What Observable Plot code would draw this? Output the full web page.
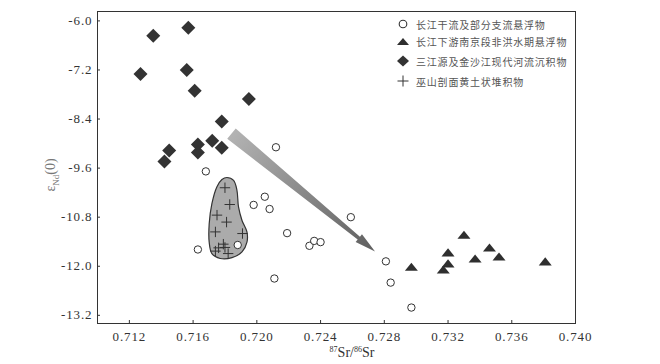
<!DOCTYPE html>
<html><head><meta charset="utf-8">
<script src="https://cdn.jsdelivr.net/npm/d3@7"></script>
<script src="https://cdn.jsdelivr.net/npm/@observablehq/plot@0.6"></script>
<style>
body{margin:0;background:#fff;}
#chart{position:relative;width:660px;height:364px;overflow:hidden;}
#chart svg text{letter-spacing:0.9px;}
.lg{position:absolute;left:396px;height:14px;display:flex;align-items:center;font-family:"Noto Sans CJK SC",sans-serif;font-size:10px;letter-spacing:0.8px;color:#555;white-space:nowrap;}
.lg svg{width:14px;height:14px;margin-right:6px;overflow:visible;}
.ylab{position:absolute;left:52px;top:175px;transform:translate(-50%,-50%) rotate(-90deg);font-family:"Liberation Serif",serif;font-size:14px;color:#777;white-space:nowrap;}
.xlab{position:absolute;left:352px;top:353px;transform:translate(-50%,-50%);font-family:"Liberation Serif",serif;font-size:14px;color:#333;white-space:nowrap;}
.ylab sub{font-size:9px;}
.xlab sup{font-size:8px;}
</style></head><body><div id="chart"></div>
<script>
// ---- data ----
const xTicks = [0.712, 0.716, 0.720, 0.724, 0.728, 0.732, 0.736, 0.740];
const yTicks = [-6.0, -7.2, -8.4, -9.6, -10.8, -12.0, -13.2];

// 长江干流及部分支流悬浮物 (circles)
const circleX = [0.7212, 0.7168, 0.7205, 0.7198, 0.7208, 0.7219, 0.7163, 0.7188, 0.7211, 0.7259, 0.7233, 0.7236, 0.7240, 0.7281, 0.7284, 0.7297];
const circleY = [-9.09, -9.68, -10.30, -10.50, -10.60, -11.19, -11.59, -11.48, -12.30, -10.80, -11.50, -11.38, -11.41, -11.88, -12.40, -13.01];

// 长江下游南京段非洪水期悬浮物 (triangles)
const triX = [0.7297, 0.7320, 0.7320, 0.7317, 0.7330, 0.7337, 0.7346, 0.7352, 0.7381];
const triY = [-12.01, -11.66, -11.93, -12.08, -11.23, -11.81, -11.54, -11.76, -11.88];

// 三江源及金沙江现代河流沉积物 (diamonds)
const diaX = [0.7135, 0.7157, 0.7127, 0.7156, 0.7161, 0.7195, 0.7178, 0.7172, 0.7178, 0.7163, 0.7163, 0.7145, 0.7142];
const diaY = [-6.36, -6.17, -7.30, -7.20, -7.71, -7.91, -8.46, -8.93, -9.10, -9.02, -9.22, -9.17, -9.44];

// 巫山剖面黄土状堆积物 (crosses)
const crossX = [0.7180, 0.7183, 0.7175, 0.7181, 0.7174, 0.7191, 0.7179, 0.7176, 0.7180, 0.7174, 0.7182];
const crossY = [-10.08, -10.49, -10.75, -10.92, -11.16, -11.20, -11.46, -11.55, -11.54, -11.63, -11.69];

// gray envelope around the crosses
const blobX = [0.71812, 0.71854, 0.71875, 0.71885, 0.71907, 0.71938, 0.71938, 0.71907, 0.71844, 0.71770, 0.71718, 0.71701, 0.71701, 0.71718, 0.71749, 0.71781];
const blobY = [-9.83, -9.90, -10.14, -10.55, -10.88, -11.16, -11.41, -11.65, -11.79, -11.81, -11.69, -11.41, -10.96, -10.47, -10.06, -9.88];

// arrow (start, tip)
const arrowX = [0.71844, 0.72745];
const arrowY = [-8.77, -11.65];

const legendLabels = ["长江干流及部分支流悬浮物", "长江下游南京段非洪水期悬浮物", "三江源及金沙江现代河流沉积物", "巫山剖面黄土状堆积物"];

// ---- layout ----
const W = 660, H = 364, mL = 97, mR = 85, mT = 11, mB = 41;
const plotW = W - mL - mR, plotH = H - mT - mB;
const xDomain = [0.710, 0.740], yDomain = [-13.40, -5.77];

const toRows = (xs, ys) => xs.map((x, i) => ({x, y: ys[i]}));
const circles = toRows(circleX, circleY);
const tris = toRows(triX, triY);
const dias = toRows(diaX, diaY);
const crosses = toRows(crossX, crossY);
const blob = toRows(blobX, blobY);

const symDiamond = {draw(c, size) { const r = Math.sqrt(size / Math.PI); c.moveTo(0, -r); c.lineTo(r, 0); c.lineTo(0, r); c.lineTo(-r, 0); c.closePath(); }};
const symTri = {draw(c, size) { const r = Math.sqrt(size / Math.PI); const h = r * 0.62; c.moveTo(0, -h); c.lineTo(r, h); c.lineTo(-r, h); c.closePath(); }};
const symPlus = {draw(c, size) { const r = Math.sqrt(size / Math.PI); c.moveTo(-r, 0); c.lineTo(r, 0); c.moveTo(0, -r); c.lineTo(0, r); }};

function arrowMark(index, scales) {
  const x0 = scales.x(arrowX[0]), y0 = scales.y(arrowY[0]);
  const x1 = scales.x(arrowX[1]), y1 = scales.y(arrowY[1]);
  const dx = x1 - x0, dy = y1 - y0, L = Math.hypot(dx, dy);
  const ux = dx / L, uy = dy / L, nx = -uy, ny = ux;
  const headLen = 21, headHalf = 5, w0 = 6.7, w1 = 1.8;
  const bx = x1 - ux * headLen, by = y1 - uy * headLen;
  const pts = [
    [x0 + nx * w0, y0 + ny * w0],
    [bx + nx * w1, by + ny * w1],
    [bx + nx * headHalf, by + ny * headHalf],
    [x1, y1],
    [bx - nx * headHalf, by - ny * headHalf],
    [bx - nx * w1, by - ny * w1],
    [x0 - nx * w0, y0 - ny * w0]
  ];
  const g = d3.create("svg:g");
  const grad = g.append("defs").append("linearGradient")
    .attr("id", "arrowGrad").attr("gradientUnits", "userSpaceOnUse")
    .attr("x1", x0).attr("y1", y0).attr("x2", x1).attr("y2", y1);
  grad.append("stop").attr("offset", "0%").attr("stop-color", "#b3b3b3");
  grad.append("stop").attr("offset", "100%").attr("stop-color", "#5f5f5f");
  g.append("polygon").attr("points", pts.map(p => p.join(",")).join(" ")).attr("fill", "url(#arrowGrad)");
  return g.node();
}

const chart = Plot.plot({
  width: W, height: H,
  marginLeft: mL, marginRight: mR, marginTop: mT, marginBottom: mB,
  x: {domain: xDomain, ticks: xTicks, tickFormat: d => d.toFixed(3), tickSize: 0, tickPadding: 8, label: null},
  y: {domain: yDomain, ticks: yTicks, tickFormat: d => d.toFixed(1), tickSize: 0, tickPadding: 5, label: null},
  style: {fontFamily: "'Liberation Serif', serif", fontSize: "13px", color: "#333", background: "white"},
  marks: [
    Plot.tickX(xTicks, {x: d => d, insetTop: plotH - 3, stroke: "#333"}),
    Plot.tickY(yTicks, {y: d => d, insetRight: plotW - 3, stroke: "#333"}),
    Plot.line(blob, {x: "x", y: "y", curve: "catmull-rom-closed", fill: "#ababab", stroke: "#333", strokeWidth: 1.2}),
    arrowMark,
    Plot.dot(crosses, {x: "x", y: "y", symbol: symPlus, r: 5.2, stroke: "#333", strokeWidth: 1}),
    Plot.dot(circles, {x: "x", y: "y", symbol: "circle", r: 3.7, fill: "white", stroke: "#333", strokeWidth: 1}),
    Plot.dot(tris, {x: "x", y: "y", symbol: symTri, r: 6.5, fill: "#2f2f2f", stroke: "none"}),
    Plot.dot(dias, {x: "x", y: "y", symbol: symDiamond, r: 7, fill: "#333", stroke: "none"}),
    Plot.frame({stroke: "#333"})
  ]
});

const root = document.getElementById("chart");
root.appendChild(chart);

// legend
const legendTops = [17, 34, 54, 74];
const legendIcons = [
  '<circle cx="7" cy="7" r="3.8" fill="white" stroke="#333" stroke-width="1.1"/>',
  '<path d="M1,11 L7,4 L13,11 Z" fill="#2f2f2f"/>',
  '<path d="M7,1.5 L13,7 L7,12.5 L1,7 Z" fill="#333"/>',
  '<path d="M1.5,7 L12.5,7 M7,1.5 L7,12.5" stroke="#333" stroke-width="1"/>'
];
legendLabels.forEach((t, i) => {
  const d = document.createElement("div");
  d.className = "lg";
  d.style.top = legendTops[i] + "px";
  d.innerHTML = `<svg viewBox="0 0 14 14">${legendIcons[i]}</svg><span>${t}</span>`;
  root.appendChild(d);
});

const yl = document.createElement("div");
yl.className = "ylab";
yl.innerHTML = "ε<sub>Nd</sub>(0)";
root.appendChild(yl);

const xl = document.createElement("div");
xl.className = "xlab";
xl.innerHTML = "<sup>87</sup>Sr/<sup>86</sup>Sr";
root.appendChild(xl);
</script>
</body></html>
